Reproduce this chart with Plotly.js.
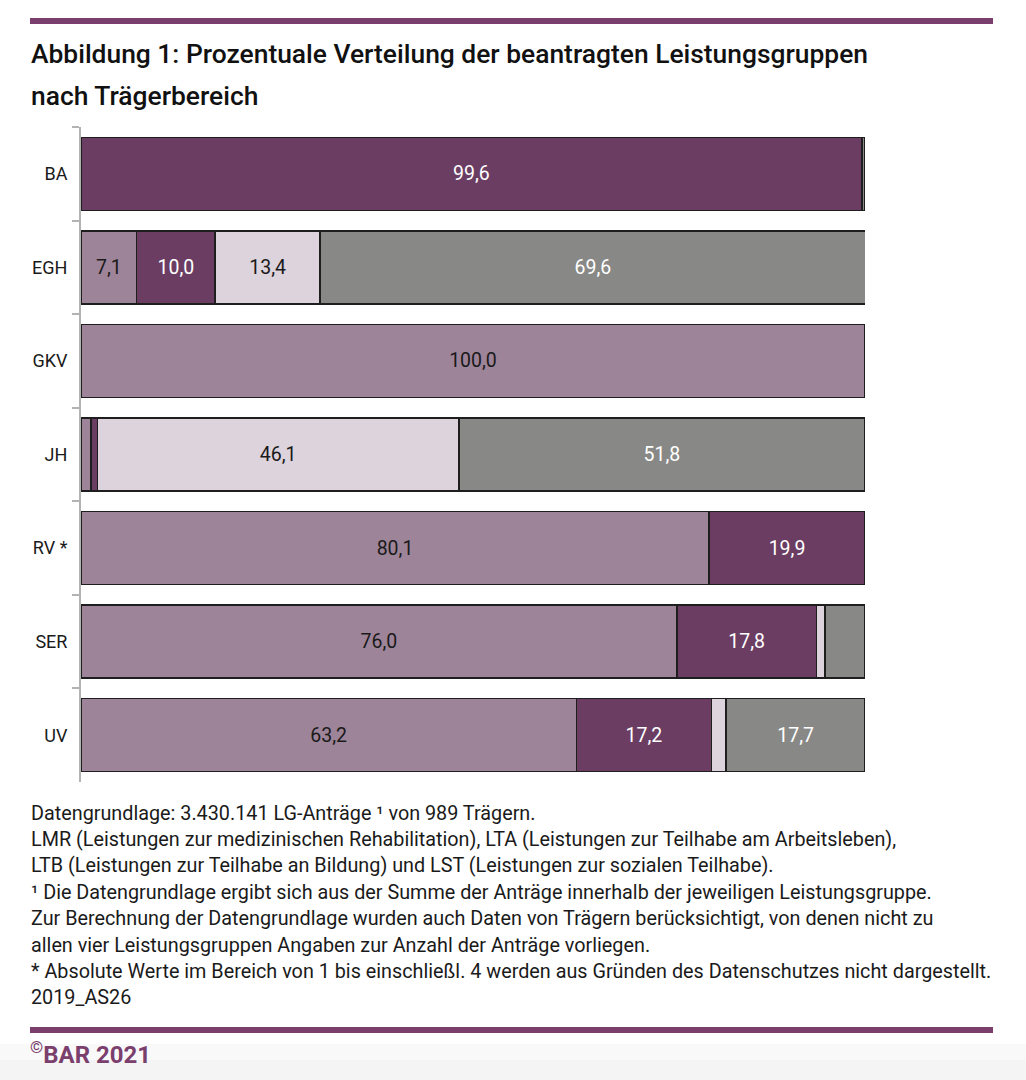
<!DOCTYPE html>
<html>
<head>
<meta charset="utf-8">
<script src="https://cdn.plot.ly/plotly-3.0.1.min.js"></script>
<style>
html,body{margin:0;padding:0;background:#fff;}
#chart{width:1026px;height:1080px;}
</style>
</head>
<body>
<div id="chart"></div>
<script>
// ---- data ----
const categories = ["BA", "EGH", "GKV", "JH", "RV *", "SER", "UV"];
const seriesNames = ["LMR", "LTA", "LTB", "LST"];
const lmr = [0, 7.1, 100.0, 1.3, 80.1, 76.0, 63.2];
const lta = [99.6, 10.0, 0, 0.8, 19.9, 17.8, 17.2];
const ltb = [0, 13.4, 0, 46.1, 0, 1.1, 1.9];
const lst = [0.4, 69.6, 0, 51.8, 0, 5.1, 17.7];
const titleLines = [
  "Abbildung 1: Prozentuale Verteilung der beantragten Leistungsgruppen",
  "nach Trägerbereich"
];
const noteLines = [
  "Datengrundlage: 3.430.141 LG-Anträge ¹ von 989 Trägern.",
  "LMR (Leistungen zur medizinischen Rehabilitation), LTA (Leistungen zur Teilhabe am Arbeitsleben),",
  "LTB (Leistungen zur Teilhabe an Bildung) und LST (Leistungen zur sozialen Teilhabe).",
  "¹ Die Datengrundlage ergibt sich aus der Summe der Anträge innerhalb der jeweiligen Leistungsgruppe.",
  "Zur Berechnung der Datengrundlage wurden auch Daten von Trägern berücksichtigt, von denen nicht zu",
  "allen vier Leistungsgruppen Angaben zur Anzahl der Anträge vorliegen.",
  "* Absolute Werte im Bereich von 1 bis einschließl. 4 werden aus Gründen des Datenschutzes nicht dargestellt.",
  "2019_AS26"
];
const copyright = "<sup>©</sup>BAR 2021";

// ---- styling ----
const W = 1026, H = 1080;
const L = 81, R = 865, T = 127, B = 782;
const colors = ["#9e8499", "#6b3d63", "#ddd3dc", "#888886"];
const textColors = ["#1a1a1a", "#ffffff", "#1a1a1a", "#ffffff"];
const purple = "#7b3f6e";
const font = "Roboto, 'Noto Sans', sans-serif";

function px2x(px){ return (px - L) / (R - L); }
function py2y(py){ return (B - py) / (B - T); }
function fmt(v){ return v >= 6 ? v.toFixed(1).replace('.', ',') : null; }

const allVals = [lmr, lta, ltb, lst];
const traces = allVals.map((vals, i) => ({
  type: 'bar',
  orientation: 'h',
  name: seriesNames[i],
  y: categories,
  x: vals,
  text: vals.map(fmt),
  textposition: 'inside',
  insidetextanchor: 'middle',
  textangle: 0,
  constraintext: 'none',
  insidetextfont: {family: font, size: 19.5, color: textColors[i]},
  marker: {color: colors[i], line: {color: '#1e1e1e', width: 1.5}},
  hoverinfo: 'skip'
}));

const annotations = [];
titleLines.forEach((t, i) => {
  annotations.push({
    xref: 'paper', yref: 'paper', x: px2x(29), y: py2y([54, 96][i]),
    xanchor: 'left', yanchor: 'middle', showarrow: false, align: 'left',
    text: t, font: {family: font, size: 26.4, color: '#111', weight: 500}
  });
});
noteLines.forEach((t, i) => {
  annotations.push({
    xref: 'paper', yref: 'paper', x: px2x(29), y: py2y(813 + i * 26.4),
    xanchor: 'left', yanchor: 'middle', showarrow: false, align: 'left',
    text: t, font: {family: font, size: 19.8, color: '#1a1a1a'}
  });
});
annotations.push({
  xref: 'paper', yref: 'paper', x: px2x(28), y: py2y(1053),
  xanchor: 'left', yanchor: 'middle', showarrow: false, align: 'left',
  text: copyright, font: {family: font, size: 24, color: purple, weight: 700}
});

const shapes = [
  {type: 'rect', xref: 'paper', yref: 'paper', x0: px2x(0), x1: px2x(W), y0: py2y(1060), y1: py2y(1080),
   fillcolor: '#f4f4f4', line: {width: 0}, layer: 'below'},
  {type: 'rect', xref: 'paper', yref: 'paper', x0: px2x(0), x1: px2x(W), y0: py2y(1044), y1: py2y(1060),
   fillcolor: '#f9f9f9', line: {width: 0}, layer: 'below'},
  {type: 'rect', xref: 'paper', yref: 'paper', x0: px2x(30), x1: px2x(993), y0: py2y(18), y1: py2y(24),
   fillcolor: purple, line: {width: 0}},
  {type: 'rect', xref: 'paper', yref: 'paper', x0: px2x(30), x1: px2x(993), y0: py2y(1027), y1: py2y(1033),
   fillcolor: purple, line: {width: 0}}
];

const layout = {
  width: W, height: H,
  margin: {l: L, r: W - R, t: T, b: H - B, pad: 0},
  paper_bgcolor: '#ffffff', plot_bgcolor: '#ffffff',
  barmode: 'stack',
  bargap: 0.22,
  showlegend: false,
  font: {family: font, color: '#1a1a1a'},
  xaxis: {range: [0, 100], visible: false, fixedrange: true},
  yaxis: {
    type: 'category', autorange: false, range: [6.5, -0.5],
    showline: true, linecolor: '#b3b3b3', linewidth: 2,
    ticks: 'outside', ticklen: 7, tickwidth: 2, tickcolor: '#b3b3b3',
    tickson: 'boundaries', showgrid: false, zeroline: false,
    tickfont: {family: font, size: 18, color: '#1a1a1a'},
    ticklabelstandoff: 8
  },
  annotations: annotations,
  shapes: shapes
};

Plotly.newPlot('chart', traces, layout, {displayModeBar: false, staticPlot: true});
</script>
</body>
</html>
